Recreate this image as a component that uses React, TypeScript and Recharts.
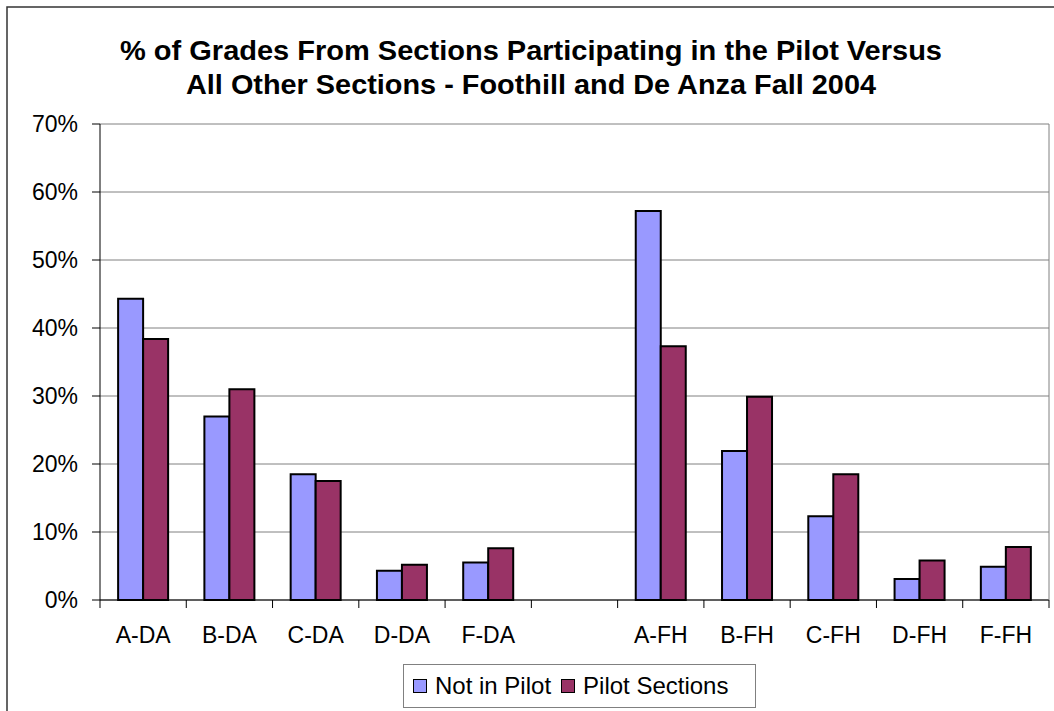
import React from "react";
import { Bar, BarChart, CartesianGrid, Legend, XAxis, YAxis } from "recharts";

const categories = ["A-DA", "B-DA", "C-DA", "D-DA", "F-DA", " ", "A-FH", "B-FH", "C-FH", "D-FH", "F-FH"];
const notInPilot = [44.3, 27.0, 18.5, 4.3, 5.5, null, 57.2, 21.9, 12.3, 3.1, 4.9];
const pilotSections = [38.4, 31.0, 17.5, 5.2, 7.6, null, 37.3, 29.9, 18.5, 5.8, 7.8];
const yTicks = [0, 10, 20, 30, 40, 50, 60, 70];
const titleLines = [
  "% of Grades From Sections Participating in the Pilot Versus",
  "All Other Sections - Foothill and De Anza Fall 2004",
];

const data = categories.map((name, i) => ({
  name,
  notInPilot: notInPilot[i],
  pilot: pilotSections[i],
}));

const W = 1054;
const H = 711;
const LEFT = 100;
const RIGHT = 5;
const TOP = 124;
const BOTTOM = 111;
const band = (W - LEFT - RIGHT) / categories.length;
const axisY = H - BOTTOM;
const FONT = "'Liberation Sans', Arial, sans-serif";
const titleWidths = [822, 690];

function CategoryTick(props: any) {
  const { x, payload, index } = props;
  return (
    <g>
      <line x1={x - band / 2} x2={x - band / 2} y1={axisY} y2={axisY + 8} stroke="#000" />
      {index === categories.length - 1 && (
        <line x1={x + band / 2} x2={x + band / 2} y1={axisY} y2={axisY + 8} stroke="#000" />
      )}
      <text x={x} y={axisY + 43} textAnchor="middle" fontSize={23} fontFamily={FONT} fill="#000">
        {payload.value}
      </text>
    </g>
  );
}

function LegendBox() {
  const item = (color: string, label: string) => (
    <span style={{ display: "inline-flex", alignItems: "center", marginRight: 10 }}>
      <span
        style={{
          width: 12,
          height: 12,
          background: color,
          border: "1px solid #000",
          marginRight: 8,
          display: "inline-block",
        }}
      />
      {label}
    </span>
  );
  return (
    <div
      style={{
        boxSizing: "border-box",
        width: 353,
        height: 44,
        border: "1px solid #808080",
        background: "#fff",
        fontFamily: FONT,
        fontSize: 24,
        color: "#000",
        display: "flex",
        alignItems: "center",
        paddingLeft: 9,
        whiteSpace: "nowrap",
      }}
    >
      {item("#9999FF", "Not in Pilot")}
      {item("#993366", "Pilot Sections")}
    </div>
  );
}

export default function App() {
  return (
    <div style={{ position: "absolute", left: 0, top: 0, width: W, height: H, background: "#fff" }}>
      <BarChart
        width={W}
        height={H}
        data={data}
        margin={{ top: TOP, right: 0, bottom: 0, left: 0 }}
        barCategoryGap="21%"
        barGap={0}
      >
        <CartesianGrid vertical={false} stroke="#808080" />
        <XAxis
          dataKey="name"
          height={BOTTOM}
          interval={0}
          axisLine={{ stroke: "#000" }}
          tickLine={false}
          tick={<CategoryTick />}
        />
        <YAxis
          width={LEFT}
          domain={[0, 70]}
          ticks={yTicks}
          interval={0}
          tickFormatter={(v: number) => `${v}%`}
          axisLine={{ stroke: "#000" }}
          tickLine={{ stroke: "#000" }}
          tickSize={8}
          tickMargin={14}
          tick={{ fill: "#000", fontSize: 23, fontFamily: FONT }}
        />
        <YAxis
          yAxisId="frame"
          orientation="right"
          width={RIGHT}
          domain={[0, 70]}
          tick={false}
          tickLine={false}
          axisLine={{ stroke: "#808080" }}
        />
        <Legend
          layout="horizontal"
          verticalAlign="middle"
          align="center"
          content={<LegendBox />}
          wrapperStyle={{ left: 403, top: 664, width: 353, height: 44 }}
        />
        <Bar dataKey="notInPilot" name="Not in Pilot" fill="#9999FF" stroke="#000" strokeWidth={2} isAnimationActive={false} />
        <Bar dataKey="pilot" name="Pilot Sections" fill="#993366" stroke="#000" strokeWidth={2} isAnimationActive={false} />
      </BarChart>
      <svg
        width={W}
        height={H}
        style={{ position: "absolute", left: 0, top: 0, pointerEvents: "none" }}
      >
        <path d={`M7 ${H} V7 H${W}`} fill="none" stroke="#333" strokeWidth={1.5} />
        {titleLines.map((line, i) => (
          <text
            key={i}
            x={531}
            y={60 + i * 34}
            textAnchor="middle"
            fontFamily={FONT}
            fontWeight="bold"
            fontSize={28}
            textLength={titleWidths[i]}
            lengthAdjust="spacingAndGlyphs"
            fill="#000"
          >
            {line}
          </text>
        ))}
      </svg>
    </div>
  );
}
